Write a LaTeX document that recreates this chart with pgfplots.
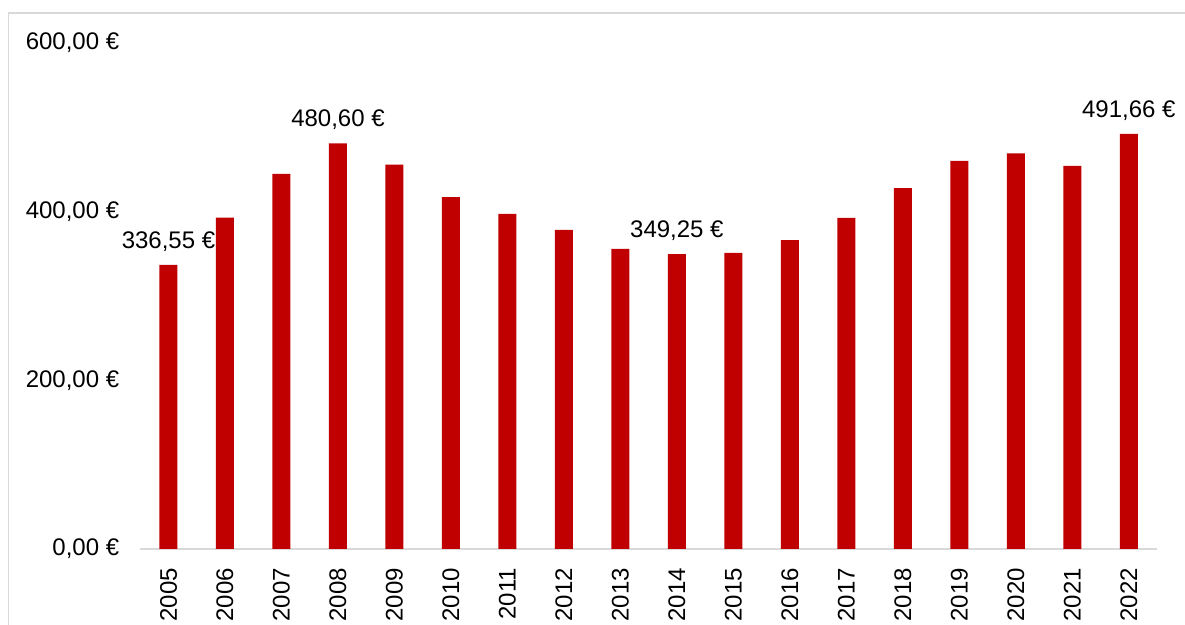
\documentclass[border=0pt]{standalone}
\usepackage{pgfplots}
\pgfplotsset{compat=1.18}
\usepackage{fontspec}
\setmainfont{Liberation Sans}
\definecolor{barred}{HTML}{C00000}
\definecolor{axgray}{HTML}{D9D9D9}
\begin{document}
\begin{tikzpicture}
\begin{axis}[at={(0pt,0pt)}, anchor=south west, scale only axis,
  width=508.4pt, height=253.25pt,
  xmin=-0.5, xmax=17.5, ymin=0, ymax=600,
  axis x line*=bottom, axis y line*=left,
  x axis line style={draw=axgray, line width=1pt},
  y axis line style={draw=none},
  xtick={0,...,17},
  xticklabels={2005,2006,2007,2008,2009,2010,2011,2012,2013,2014,2015,2016,2017,2018,2019,2020,2021,2022},
  ytick={0,200,400,600},
  yticklabels={{0,00 €},{200,00 €},{400,00 €},{600,00 €}},
  tick style={draw=none}, major tick length=0pt,
  xticklabel style={rotate=90, anchor=east, font=\fontsize{12}{14}\selectfont, xshift=-6pt},
  yticklabel style={anchor=east, font=\fontsize{12}{14}\selectfont, xshift=-7pt},
  clip=false,
]
\addplot[ybar, bar width=9pt, fill=barred, draw=none] coordinates {
(0,336.55) (1,392.5) (2,444.3) (3,480.60) (4,455.3) (5,416.7) (6,396.9) (7,378.0)
(8,355.5) (9,349.25) (10,350.7) (11,366.0) (12,392.2) (13,427.4) (14,459.7)
(15,468.8) (16,453.8) (17,491.66)};
\node[anchor=base, yshift=8.4pt, font=\fontsize{12}{14}\selectfont] at (axis cs:0,336.55) {336,55 €};
\node[anchor=base, yshift=8.4pt, font=\fontsize{12}{14}\selectfont] at (axis cs:3,480.60) {480,60 €};
\node[anchor=base, yshift=8.4pt, font=\fontsize{12}{14}\selectfont] at (axis cs:9,349.25) {349,25 €};
\node[anchor=base, yshift=8.4pt, font=\fontsize{12}{14}\selectfont] at (axis cs:17,491.66) {491,66 €};
\end{axis}
\draw[axgray, line width=0.75pt] (-65.875pt,-40pt) -- (-65.875pt,268pt) -- (524pt,268pt);
\pgfresetboundingbox
\path[use as bounding box] (-70.125pt,-38pt) rectangle (522.375pt,274.5pt);
\end{tikzpicture}
\end{document}
